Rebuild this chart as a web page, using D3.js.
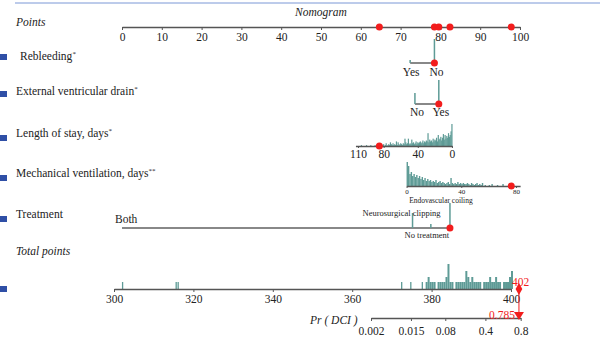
<!DOCTYPE html>
<html><head><meta charset="utf-8">
<script src="https://cdn.jsdelivr.net/npm/d3@7"></script>
<style>
body{margin:0;background:#fff}
svg{display:block}
text{font-family:"Liberation Serif","DejaVu Serif",serif;fill:#222}
</style>
</head><body>
<svg id="c" width="600" height="340"></svg>
<script>
// ---------------- DATA ----------------
const pointTicks = [0,10,20,30,40,50,60,70,80,90,100];
const totalTicks = [300,320,340,360,380,400];
const probTicks = [0.002,0.015,0.08,0.4,0.8];
const probTickLabels = ["0.002","0.015","0.08","0.4","0.8"];

const rowLabels = ["Rebleeding","External ventricular drain","Length of stay, days","Mechanical ventilation, days","Treatment"];
const rowMarks = ["*","*","*","**",""];

const rebleedCats = ["Yes","No"];
const rebleedPoints = [72.4,78.5];
const rebleedCounts = [3,24];

const evdCats = ["No","Yes"];
const evdPoints = [73.6,79.6];
const evdCounts = [11,24];

const losTicks = [110,80,40,0];
const losRangeDays = [0,110];
const losRangePoints = [82.9,59.3];
const losCounts = [24,16,12,10,14,9,11,8,12,7,13,9,6,10,8,7,12,5,9,6,7,5,8,4,6,5,7,4,14,5,6,4,5,3,6,4,3,5,4,3,4,2,5,3,2,4,3,7,2,3,2,8,3,2,4,8,2,3,1,2,3,1,2,4,1,5,1,2,1,3,1,2,4,1,2,1,0,3,1,0,2,1,0,1,2,0,1,0,1,0,1,0,0,0,0,1,0,0,0,0,1,0,0,0,0,0,1];

const mvTicks = [0,40,80];
const mvRangeDays = [0,80];
const mvRangePoints = [71.5,99.0];
const mvMaxDays = 83;
const mvCounts = [24,20,12,14,10,12,9,11,8,10,7,9,6,8,5,7,5,6,4,5,4,6,3,4,5,3,4,3,2,3,4,2,8,3,2,3,2,4,2,3,2,3,2,2,3,2,1,3,2,1,2,3,1,2,1,3,0,1,0,0,1,0,2,0,0,0,1,0,0,0,2,0,0,0,0,0,1];

const treatCats = ["Both","Neurosurgical clipping","No treatment","Endovascular coiling"];
const treatPoints = [0,73,77.6,82.4];
const treatCounts = [0,15,4,25];

const totalBins = [302,315.5,316,372.3,374.6,377.5,
  378.5,379,379.5,380,380.5,381,381.5,382,382.5,383,383.5,384,384.5,385,385.5,386,386.5,387,387.5,388,388.5,389,389.5,390,390.5,391,391.5,392,392.5,393,393.5,394,394.5,395,395.5,396,396.5,397,397.5,398,398.5,399,399.5,400];
const totalCounts = [7,7,7,7,7,7,
  7,12,7,7,7,0,7,7,7,7,12,25,7,7,0,7,7,7,7,7,18,12,7,12,7,7,7,7,0,7,7,7,12,7,7,12,7,7,0,7,7,7,12,18];

// patient example
const patient = {rebleed:"No", evd:"Yes", los:85, mv:76.5, treat:"Endovascular coiling"};
const totalScore = 402;
const probValue = 0.785;

// ---------------- LAYOUT ----------------
const svg = d3.select("#c");
const teal = "#5e9b96", gray = "#555", red = "#f21d1d";
const pts = d3.scaleLinear().domain([0,100]).range([122,520]);
const tot = d3.scaleLinear().domain([300,400]).range([114,511]);
const logit = p => Math.log(p/(1-p));
const pr = d3.scaleLinear().domain([logit(0.002),logit(0.8)]).range([371,520.7]);
const losP = d3.scaleLinear().domain(losRangeDays).range(losRangePoints);
const mvP = d3.scaleLinear().domain(mvRangeDays).range(mvRangePoints);

// top rule
svg.append("line").attr("x1",15).attr("x2",600).attr("y1",3).attr("y2",3).attr("stroke","#7b97d6").attr("stroke-width",1);

// blue squares
[57,94,138,178,219,289].forEach(y=>{
  svg.append("rect").attr("x",0).attr("y",y-3).attr("width",7).attr("height",6).attr("fill","#2f4fa6");
});

svg.append("text").attr("x",321).attr("y",16).attr("text-anchor","middle").attr("font-style","italic").attr("font-size",11.5).text("Nomogram");
svg.append("text").attr("x",16).attr("y",26).attr("font-style","italic").attr("font-size",11.5).text("Points");
svg.append("text").attr("x",16).attr("y",255).attr("font-style","italic").attr("font-size",11.5).text("Total points");

// row labels
const labelY = [60,95,137,177,218];
const labelX = [20,16,16,16,16];
rowLabels.forEach((l,i)=>{
  const t = svg.append("text").attr("x",labelX[i]).attr("y",labelY[i]).attr("font-size",11.5).text(l);
  if(rowMarks[i]) t.append("tspan").attr("font-size",7).attr("dy",-4).text(rowMarks[i]);
});

function axisStyle(g, fs){
  g.attr("font-family",null);
  g.select(".domain").attr("stroke",gray).attr("stroke-width",1.4);
  g.selectAll(".tick line").attr("stroke",gray);
  g.selectAll(".tick text").attr("fill","#222").attr("font-size",fs);
}

// Points axis
const gP = svg.append("g").attr("transform","translate(0,27)")
  .call(d3.axisBottom(pts).tickValues(pointTicks).tickSize(3).tickSizeOuter(0).tickPadding(3));
axisStyle(gP, 11.5);

// Rebleeding
const yR = 63;
const hR = d3.scaleLinear().domain([0,d3.max(rebleedCounts)]).range([0,24]);
svg.append("line").attr("x1",pts(rebleedPoints[0])).attr("x2",pts(rebleedPoints[1])).attr("y1",yR).attr("y2",yR).attr("stroke",gray).attr("stroke-width",1.4);
rebleedCats.forEach((c,i)=>{
  svg.append("line").attr("x1",pts(rebleedPoints[i])).attr("x2",pts(rebleedPoints[i])).attr("y1",yR).attr("y2",yR-hR(rebleedCounts[i])).attr("stroke",teal).attr("stroke-width",1.5);
  svg.append("text").attr("x",pts(rebleedPoints[i])+(i?2:1)).attr("y",76).attr("text-anchor","middle").attr("font-size",11.5).text(c);
});
svg.append("circle").attr("cx",pts(rebleedPoints[rebleedCats.indexOf(patient.rebleed)])).attr("cy",yR).attr("r",3.5).attr("fill",red);

// EVD
const yE = 104;
const hE = d3.scaleLinear().domain([0,d3.max(evdCounts)]).range([0,24]);
svg.append("line").attr("x1",pts(evdPoints[0])).attr("x2",pts(evdPoints[1])).attr("y1",yE).attr("y2",yE).attr("stroke",gray).attr("stroke-width",1.4);
evdCats.forEach((c,i)=>{
  svg.append("line").attr("x1",pts(evdPoints[i])).attr("x2",pts(evdPoints[i])).attr("y1",yE).attr("y2",yE-hE(evdCounts[i])).attr("stroke",teal).attr("stroke-width",1.5);
  svg.append("text").attr("x",pts(evdPoints[i])+2).attr("y",116).attr("text-anchor","middle").attr("font-size",11.5).text(c);
});
svg.append("circle").attr("cx",pts(evdPoints[evdCats.indexOf(patient.evd)])).attr("cy",yE).attr("r",3.5).attr("fill",red);

// Length of stay
const yL = 146;
const xL = d => pts(losP(d));
const hL = d3.scaleLinear().domain([0,d3.max(losCounts)]).range([0,22]);
svg.append("g").selectAll("rect").data(losCounts).join("rect")
  .attr("x",(c,d)=>xL(d)-0.6).attr("width",1.2)
  .attr("y",c=>yL-hL(c)).attr("height",c=>hL(c)).attr("fill",teal);
const gL = svg.append("g").attr("transform",`translate(0,${yL})`)
  .call(d3.axisBottom(d3.scaleLinear().domain([113,0]).range([xL(113),xL(0)])).tickValues(losTicks).tickSize(2).tickSizeOuter(0).tickPadding(2));
axisStyle(gL, 11.5);
svg.append("circle").attr("cx",xL(patient.los)).attr("cy",yL).attr("r",3.5).attr("fill",red);

// Mechanical ventilation
const yM = 186;
const xM = d => pts(mvP(d));
const hM = d3.scaleLinear().domain([0,d3.max(mvCounts)]).range([0,24]);
svg.append("g").selectAll("rect").data(mvCounts).join("rect")
  .attr("x",(c,d)=>xM(d)).attr("width",1.4)
  .attr("y",c=>yM-hM(c)).attr("height",c=>hM(c)).attr("fill",teal);
const gM = svg.append("g").attr("transform",`translate(0,${yM})`)
  .call(d3.axisBottom(d3.scaleLinear().domain([0,mvMaxDays]).range([xM(0),xM(mvMaxDays)])).tickValues(mvTicks).tickSize(2).tickSizeOuter(0).tickPadding(1));
axisStyle(gM, 7);
svg.append("circle").attr("cx",xM(patient.mv)).attr("cy",yM).attr("r",3.5).attr("fill",red);

// Treatment
const yT = 228;
const hT = d3.scaleLinear().domain([0,d3.max(treatCounts)]).range([0,25]);
svg.append("line").attr("x1",pts(d3.min(treatPoints))).attr("x2",pts(d3.max(treatPoints))).attr("y1",yT).attr("y2",yT).attr("stroke","#888").attr("stroke-width",1.8);
treatCats.forEach((c,i)=>{
  if(treatCounts[i]>0)
    svg.append("line").attr("x1",pts(treatPoints[i])).attr("x2",pts(treatPoints[i])).attr("y1",yT).attr("y2",yT-hT(treatCounts[i])).attr("stroke",teal).attr("stroke-width",1.5);
});
svg.append("text").attr("x",pts(treatPoints[0])-7).attr("y",223).attr("font-size",11.5).text(treatCats[0]);
svg.append("text").attr("x",pts(treatPoints[1])-11).attr("y",216).attr("text-anchor","middle").attr("font-size",8.5).text(treatCats[1]);
svg.append("text").attr("x",pts(treatPoints[2])-4).attr("y",238).attr("text-anchor","middle").attr("font-size",8.5).text(treatCats[2]);
svg.append("text").attr("x",pts(treatPoints[3])-9).attr("y",203).attr("text-anchor","middle").attr("font-size",7.5).text(treatCats[3]);
svg.append("circle").attr("cx",pts(treatPoints[treatCats.indexOf(patient.treat)])).attr("cy",yT).attr("r",3.5).attr("fill",red);

// Red dots on points axis
const patientPts = [
  rebleedPoints[rebleedCats.indexOf(patient.rebleed)],
  evdPoints[evdCats.indexOf(patient.evd)],
  losP(patient.los), mvP(patient.mv),
  treatPoints[treatCats.indexOf(patient.treat)]
];
svg.append("g").selectAll("circle").data(patientPts).join("circle")
  .attr("cx",d=>pts(d)).attr("cy",27).attr("r",3.5).attr("fill",red);

// Total points
const yTot = 289;
const hTot = d3.scaleLinear().domain([0,d3.max(totalCounts)]).range([0,25]);
svg.append("g").selectAll("rect").data(totalBins).join("rect")
  .attr("x",d=>tot(d)).attr("width",d=>d>=378.5? tot(d+0.5)-tot(d) : 1.3)
  .attr("y",(d,i)=>yTot-hTot(totalCounts[i])).attr("height",(d,i)=>hTot(totalCounts[i])).attr("fill",teal);
const gT = svg.append("g").attr("transform",`translate(0,${yTot})`)
  .call(d3.axisBottom(tot).tickValues(totalTicks).tickSize(3).tickSizeOuter(0).tickPadding(3));
axisStyle(gT, 11.5);

// Pr(DCI)
const yPr = 318;
const gPr = svg.append("g").attr("transform",`translate(0,${yPr})`)
  .call(d3.axisBottom(pr).tickValues(probTicks.map(logit)).tickFormat((d,i)=>probTickLabels[i]).tickSize(3).tickSizeOuter(0).tickPadding(6));
axisStyle(gPr, 11.5);
svg.append("text").attr("x",310).attr("y",324).attr("font-style","italic").attr("font-size",11.5).text("Pr ( DCI )");

// red connector
const xt = tot(totalScore);
svg.append("line").attr("x1",xt).attr("x2",xt).attr("y1",yTot).attr("y2",yPr-3).attr("stroke",red).attr("stroke-width",1);
svg.append("path").attr("d",d3.symbol(d3.symbolDiamond,40)()).attr("transform",`translate(${xt},${yTot})`).attr("fill",red);
svg.append("path").attr("d",`M${xt-5},${yPr-6}L${xt+5},${yPr-6}L${xt},${yPr+2}Z`).attr("fill",red);
svg.append("text").attr("x",xt-7).attr("y",286).attr("font-size",11.5).style("fill",red).text(totalScore);
svg.append("text").attr("x",xt-4).attr("y",319).attr("text-anchor","end").attr("font-size",11.5).style("fill",red).text(probValue);
</script>
</body></html>
